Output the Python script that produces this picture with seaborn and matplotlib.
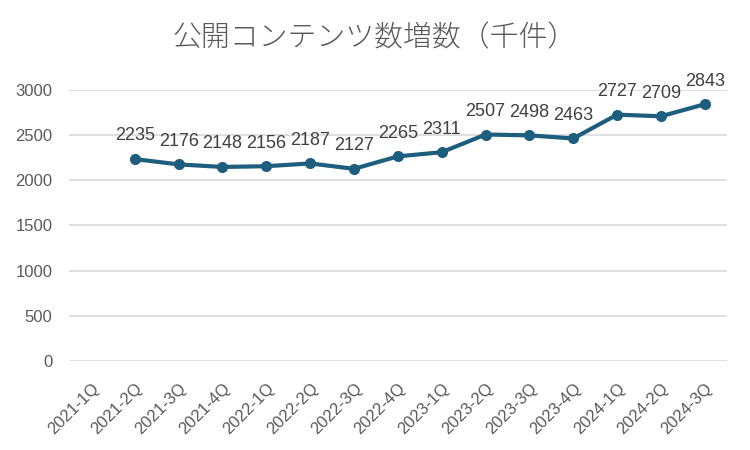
import numpy as np
import pandas as pd
import matplotlib
matplotlib.use("Agg")
import matplotlib.pyplot as plt
import seaborn as sns

quarters = [
    "2021-1Q", "2021-2Q", "2021-3Q", "2021-4Q",
    "2022-1Q", "2022-2Q", "2022-3Q", "2022-4Q",
    "2023-1Q", "2023-2Q", "2023-3Q", "2023-4Q",
    "2024-1Q", "2024-2Q", "2024-3Q",
]
counts = [np.nan, 2235, 2176, 2148, 2156, 2187, 2127, 2265,
          2311, 2507, 2498, 2463, 2727, 2709, 2843]

df = pd.DataFrame({"pos": np.arange(len(quarters)), "count": counts})

sns.set_style("white")
plt.rcParams["font.family"] = ["Liberation Sans", "DejaVu Sans"]

fig = plt.figure(figsize=(7.5, 4.5), dpi=100)
ax = fig.add_axes([0.092, 0.198, 0.877, 0.602])

line_color = "#1D5E7E"
sns.lineplot(
    data=df.dropna(),
    x="pos",
    y="count",
    ax=ax,
    color=line_color,
    linewidth=3,
    marker="o",
    markersize=8,
    markeredgewidth=0,
)

# value labels above each point
for i, v in enumerate(counts):
    if np.isnan(v):
        continue
    ax.annotate(
        f"{int(v)}",
        (i, v),
        xytext=(0, 10.5),
        textcoords="offset points",
        ha="center",
        va="bottom",
        fontsize=13,
        color="#404040",
    )

ax.set_xlim(-0.5, len(quarters) - 0.5)
ax.set_ylim(0, 3000)
ax.set_yticks(range(0, 3001, 500))
ax.set_xticks(range(len(quarters)))
ax.set_xticklabels(quarters, rotation=45, ha="right", rotation_mode="anchor")
ax.tick_params(axis="x", labelsize=12, colors="#595959", length=0, pad=14)
ax.tick_params(axis="y", labelsize=12, colors="#595959", length=0, pad=12)

ax.grid(axis="y", color="#D9D9D9", linewidth=1.2)
ax.set_axisbelow(True)
for s in ax.spines.values():
    s.set_visible(False)
ax.set_xlabel("")
ax.set_ylabel("")

fig.suptitle(
    "公開コンテンツ数増数（千件）",
    x=0.5,
    y=0.95,
    fontsize=20.8,
    color="#595959",
    family=["Noto Sans CJK JP", "DejaVu Sans"],
    fontweight="light",
)

fig.savefig("out.png", dpi=100)
